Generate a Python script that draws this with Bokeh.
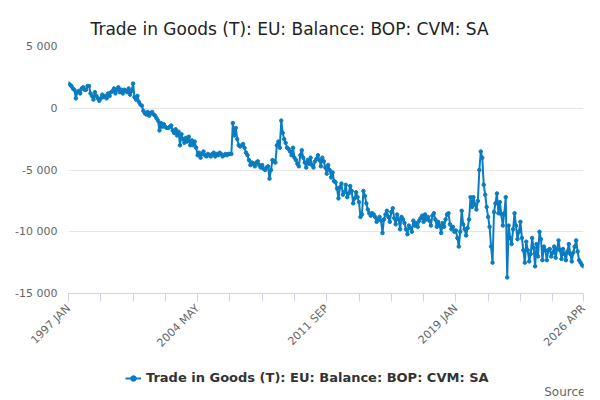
from bokeh.plotting import figure
from bokeh.models import Legend, LegendItem, Title, FixedTicker, Label
from bokeh.layouts import column
from bokeh.embed import file_html
from bokeh.resources import INLINE

title = "Trade in Goods (T): EU: Balance: BOP: CVM: SA"
tick_positions = [0, 88, 176, 264, 351]
tick_labels = ["1997 JAN", "2004 MAY", "2011 SEP", "2019 JAN", "2026 APR"]
y_ticks = [-15000, -10000, -5000, 0, 5000]
y_labels = ["-15 000", "-10 000", "-5 000", "0", "5 000"]

values = [
 2000,1900,1800,1600,1500,800,1300,1400,1200,1600,1700,1500,
 1500,1800,1800,1200,1000,700,1300,1000,800,600,800,1100,
 900,1000,800,1200,1000,1300,1400,1600,1200,1500,1700,1300,
 1500,1200,1500,1400,1300,1600,1100,1400,2000,900,700,1000,
 500,300,200,-200,-400,-500,-300,-600,-400,-300,-500,-600,
 -800,-1000,-1800,-1200,-1500,-1300,-1500,-1600,-1600,-1500,-1400,-1800,
 -2000,-1700,-2200,-1900,-3000,-2100,-2500,-2800,-2400,-2700,-2300,-3000,
 -2600,-3000,-2700,-3200,-3800,-3600,-4000,-3700,-3500,-3800,-3900,-3700,
 -3800,-3900,-3700,-3600,-3900,-3700,-3800,-3600,-3700,-3900,-3800,-3700,
 -3800,-3700,-3700,-3700,-1200,-2200,-1600,-2500,-3000,-3100,-3000,-2900,
 -3200,-3600,-3800,-4200,-4600,-4400,-4500,-4700,-4400,-4300,-4600,-4800,
 -4600,-4900,-5000,-4800,-4700,-5700,-5000,-4200,-4300,-4400,-3000,-2700,
 -3200,-1000,-2000,-2500,-2800,-3200,-3300,-3500,-3800,-3200,-4000,-4200,
 -4500,-4700,-3800,-3400,-4000,-4400,-4800,-4200,-4500,-4000,-4600,-4800,
 -4300,-4100,-3800,-4200,-4700,-4000,-4300,-4800,-5300,-4600,-5000,-5600,
 -5200,-5900,-6000,-6500,-7300,-6400,-6100,-7000,-6800,-6200,-7200,-6900,
 -6300,-6700,-7700,-7300,-6800,-7200,-7600,-8800,-8600,-6700,-7100,-7700,
 -8200,-8500,-8700,-8500,-8600,-8800,-9200,-9000,-8800,-9100,-10100,-9000,
 -8600,-8300,-8800,-9200,-8400,-8100,-8900,-9400,-8600,-9000,-9800,-8800,
 -9000,-9300,-9800,-10200,-9500,-9700,-10000,-9100,-9500,-9300,-9600,-9100,
 -8900,-8700,-9200,-8600,-9000,-8800,-9100,-9500,-8700,-8500,-9000,-9600,
 -9200,-9500,-10100,-9300,-9600,-9000,-8600,-8500,-9400,-9800,-9600,-10000,
 -9900,-10500,-11200,-10000,-8300,-9400,-9800,-10300,-9700,-9000,-7200,-8000,
 -7200,-7800,-8200,-7500,-5000,-3500,-4000,-6200,-7000,-8000,-8800,-9600,
 -11200,-12500,-8400,-7700,-6900,-8500,-7600,-8600,-9500,-8500,-7200,-13700,
 -9500,-10500,-11000,-9800,-8500,-9500,-10600,-10000,-9200,-10500,-11500,-12500,
 -10800,-11500,-12400,-11800,-10500,-11300,-12800,-11000,-12000,-10000,-10600,-12300,
 -11200,-11500,-12300,-11500,-11400,-12000,-11700,-11200,-12100,-11400,-10700,-11500,
 -12200,-11400,-11800,-12300,-11600,-11000,-11800,-12400,-11700,-11200,-10700,-11600,
 -12300,-12500,-12700,-12800,
]
idx = list(range(len(values)))

color = "#0a7cc1"
p = figure(frame_width=515, frame_height=247, output_backend="svg", toolbar_location=None,
           x_range=(0, len(values) - 1), y_range=(-15000, 5000),
           min_border_left=68, min_border_right=9, min_border_top=46, min_border_bottom=54)
p.title = Title(text=title, align="left", offset=22, text_font="DejaVu Sans",
                text_font_size="17px", text_font_style="normal", text_color="#222222",
                standoff=16)
p.outline_line_color = None

r1 = p.line(idx, values, line_color=color, line_width=2)
r2 = p.scatter(idx, values, size=3.5, color=color)

p.xaxis.ticker = FixedTicker(ticks=tick_positions, minor_ticks=[i * 22 for i in range(17)])
p.xaxis.major_label_overrides = dict(zip(tick_positions, tick_labels))
p.xaxis.major_label_orientation = 0.785
p.xaxis.axis_line_color = "#ccd6eb"
p.xaxis.major_tick_line_color = "#ccd6eb"
p.xaxis.minor_tick_line_color = "#ccd6eb"
p.xaxis.major_tick_out = 8
p.xaxis.major_tick_in = 0
p.xaxis.minor_tick_out = 8
p.xaxis.minor_tick_in = 0
p.xaxis.major_label_text_font = "DejaVu Sans"
p.xaxis.major_label_text_font_size = "11px"
p.xaxis.major_label_text_color = "#666666"
p.xgrid.grid_line_color = None

p.yaxis.ticker = FixedTicker(ticks=y_ticks)
p.yaxis.major_label_overrides = dict(zip(y_ticks, y_labels))
p.yaxis.axis_line_color = None
p.yaxis.major_tick_line_color = None
p.yaxis.minor_tick_line_color = None
p.yaxis.major_label_text_font = "DejaVu Sans"
p.yaxis.major_label_text_font_size = "11px"
p.yaxis.major_label_text_color = "#666666"
p.ygrid.grid_line_color = "#e6e6e6"

# legend strip below (same series, drawn outside the visible range)
q = figure(width=592, height=53, output_backend="svg", toolbar_location=None,
           x_range=(1000, 1001), y_range=(0, 1), min_border=0,
           x_axis_location=None, y_axis_location=None)
q.grid.visible = False
q.outline_line_color = None
l1 = q.line(idx, values, line_color=color, line_width=2)
l2 = q.scatter(idx, values, size=3.5, color=color)
legend = Legend(items=[LegendItem(label=title, renderers=[l1, l2])], location=(57, 25),
                orientation="horizontal", border_line_color=None, background_fill_alpha=0,
                label_text_font="DejaVu Sans", label_text_font_size="13px",
                label_text_font_style="bold", label_text_color="#333333",
                glyph_width=16, margin=0, padding=2, label_height=14, glyph_height=14)
q.add_layout(legend)
q.add_layout(Label(x=521, y=12, x_units="screen", y_units="screen", text="Source:",
                   text_align="right", text_font="DejaVu Sans", text_font_size="12px",
                   text_color="#666666"))

open("out.html", "w").write(file_html(column(p, q, spacing=0), INLINE))
